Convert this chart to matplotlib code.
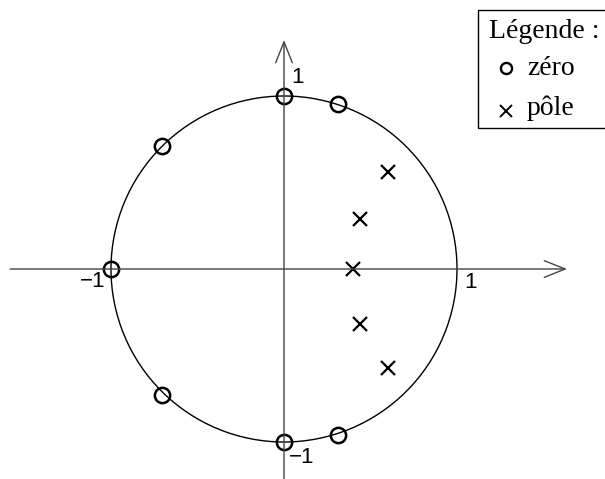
import matplotlib
matplotlib.use("Agg")
import matplotlib.pyplot as plt
from matplotlib.patches import Circle, Rectangle
import numpy as np

# data
zeros_re = [0.0, 0.315, -0.707, -1.0, -0.707, 0.0, 0.315]
zeros_im = [1.0, 0.955, 0.712, 0.0, -0.728, -1.0, -0.96]
poles_re = [0.60, 0.44, 0.40, 0.44, 0.60]
poles_im = [0.56, 0.29, 0.0, -0.32, -0.57]
tick_vals = [1, -1]
tick_labels = ["1", "\u22121"]
legend_title = "Légende :"
legend_labels = ["zéro", "pôle"]

W, H = 605, 479
cx, cy, R = 284.0, 269.0, 173.0

fig = plt.figure(figsize=(W / 100, H / 100), dpi=100)
ax = fig.add_axes([0, 0, 1, 1])
ax.set_xlim(-cx / R, (W - cx) / R)
ax.set_ylim((cy - H) / R, cy / R)
ax.set_aspect("auto")
ax.axis("off")

axis_col = "#444444"
# axes with arrows
ax.annotate("", xy=((567 - cx) / R, 0), xytext=((10 - cx) / R, 0),
            arrowprops=dict(arrowstyle="->,head_length=0.75,head_width=0.3",
                            mutation_scale=20, color=axis_col, lw=1.0,
                            shrinkA=0, shrinkB=0))
ax.annotate("", xy=(0, (cy - 40) / R), xytext=(0, (cy - H - 5) / R),
            arrowprops=dict(arrowstyle="->,head_length=0.75,head_width=0.3",
                            mutation_scale=20, color=axis_col, lw=1.0,
                            shrinkA=0, shrinkB=0))

# unit circle
ax.add_patch(Circle((0, 0), 1.0, fill=False, ec="black", lw=1.0))

# zeros and poles
ax.plot(zeros_re, zeros_im, linestyle="none", marker="o", ms=11,
        mfc="none", mec="black", mew=1.8)
ax.plot(poles_re, poles_im, linestyle="none", marker="x", ms=10.5,
        mec="black", mew=1.6)

# tick labels
tfont = dict(family="Liberation Sans", size=16, color="black",
             ha="center", va="center")
ax.annotate(tick_labels[0], xy=(tick_vals[0], 0), xytext=(10, -9.5),
            textcoords="offset points", **tfont)
ax.annotate(tick_labels[1], xy=(tick_vals[1], 0), xytext=(-13, -9),
            textcoords="offset points", **tfont)
ax.annotate(tick_labels[0], xy=(0, tick_vals[0]), xytext=(9.5, 13),
            textcoords="offset points", **tfont)
ax.annotate(tick_labels[1], xy=(0, tick_vals[1]), xytext=(13, -11),
            textcoords="offset points", **tfont)

# legend (drawn in pixel coordinates of the figure)
def px(x, y):
    return x / W, 1 - y / H

lx0, ly0, lx1, ly1 = 478, 10, 620, 128
fig.patches.append(Rectangle(px(lx0, ly1), (lx1 - lx0) / W, (ly1 - ly0) / H,
                             transform=fig.transFigure, fill=False,
                             ec="black", lw=1.0))
lfont = dict(family="Liberation Serif", size=20, color="black", va="baseline")
fig.text(*px(489, 38), legend_title, **lfont)
fig.text(*px(527, 75), legend_labels[0], **lfont)
fig.text(*px(527, 115), legend_labels[1], **lfont)
fig.lines.append(plt.Line2D([px(505.5, 67.5)[0]], [px(505.5, 67.5)[1]],
                            transform=fig.transFigure, marker="o", ms=8,
                            mfc="none", mec="black", mew=1.7, ls="none"))
fig.lines.append(plt.Line2D([px(506, 111)[0]], [px(506, 111)[1]],
                            transform=fig.transFigure, marker="x", ms=8.5,
                            mec="black", mew=1.4, ls="none"))

fig.savefig("out.png", dpi=100)
